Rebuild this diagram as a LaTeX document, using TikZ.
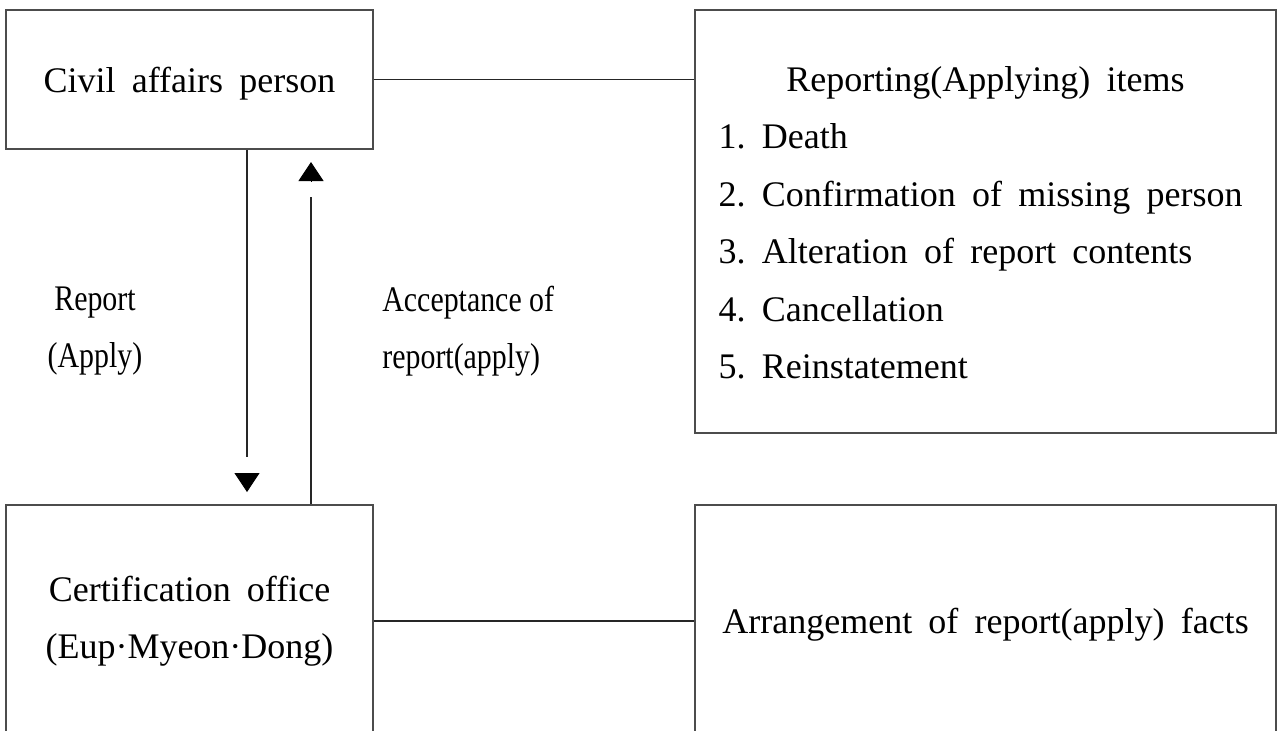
\documentclass[tikz,border=0pt]{standalone}
\usepackage{fontspec}
\setmainfont{Liberation Serif}[WordSpace=1.8]
\newfontfamily\narrowfont{Liberation Serif}[FakeStretch=0.83]
\usetikzlibrary{positioning, arrows.meta}
\tikzstyle{plainbox} = [rectangle, draw=black!70, line width=0.7pt, text centered, font=\fontsize{18}{28.5}\selectfont]
\tikzstyle{itemtext} = [anchor=base west, inner sep=0pt, font=\fontsize{18}{28.5}\selectfont]
\tikzstyle{flowlabel} = [inner sep=0pt, font=\narrowfont\fontsize{18}{28.5}\selectfont]
\tikzstyle{line} = [draw=black!85, line width=0.6pt]
\tikzstyle{head} = [-{Triangle[length=9.5pt,width=12.5pt]}, line width=0.4pt]

\begin{document}
\begin{tikzpicture}[x=0.5pt, y=-0.5pt]
        \clip (0,0) rectangle (1277,730);
        \node (civil) [plainbox, minimum width=183.5pt, minimum height=69.5pt, text height=16.4pt, text depth=3.9pt] at (189.5,79.5) {Civil affairs person};
        \node (items) [plainbox, minimum width=290.5pt, minimum height=211.5pt] at (985.5,221.5) {};
        \node (office) [plainbox, minimum width=183.5pt, minimum height=116pt, align=center] at (189.5,621) {Certification office\\(Eup·Myeon·Dong)};
        \node (facts) [plainbox, minimum width=290.5pt, minimum height=116pt, text height=16.4pt, text depth=3.9pt] at (985.5,621) {Arrangement of report(apply) facts};

        \node (itemshead) [anchor=base, inner sep=0pt, font=\fontsize{18}{28.5}\selectfont] at ([yshift=-41pt]items.north) {Reporting(Applying) items};
        \foreach \t [count=\i] in {Death, Confirmation of missing person, Alteration of report contents, Cancellation, Reinstatement}
            \node (item\i) [itemtext] at ([xshift=12pt, yshift={-41pt-28.75pt*\i}]items.north west) {\i.\ \t};

        \node (reportlbl) [flowlabel, align=center] at (95,331) {Report\\(Apply)};
        \node (acceptlbl) [flowlabel, align=left, anchor=west] at (382,331) {Acceptance of\\report(apply)};

        \coordinate (downtip) at (247,492);
        \coordinate (uptip) at (311,162);

        \draw [line] (civil.east) -- (civil.east -| items.west);
        \draw [line] (office.east |- facts.west) -- (facts.west);
        \draw [line] (civil.south -| downtip) -- ([yshift=17.5pt]downtip);
        \draw [head] ([yshift=9.5pt]downtip) -- (downtip);
        \draw [line] (office.north -| uptip) -- ([yshift=-17.5pt]uptip);
        \draw [head] ([yshift=-9.5pt]uptip) -- (uptip);
    \end{tikzpicture}
\end{document}
